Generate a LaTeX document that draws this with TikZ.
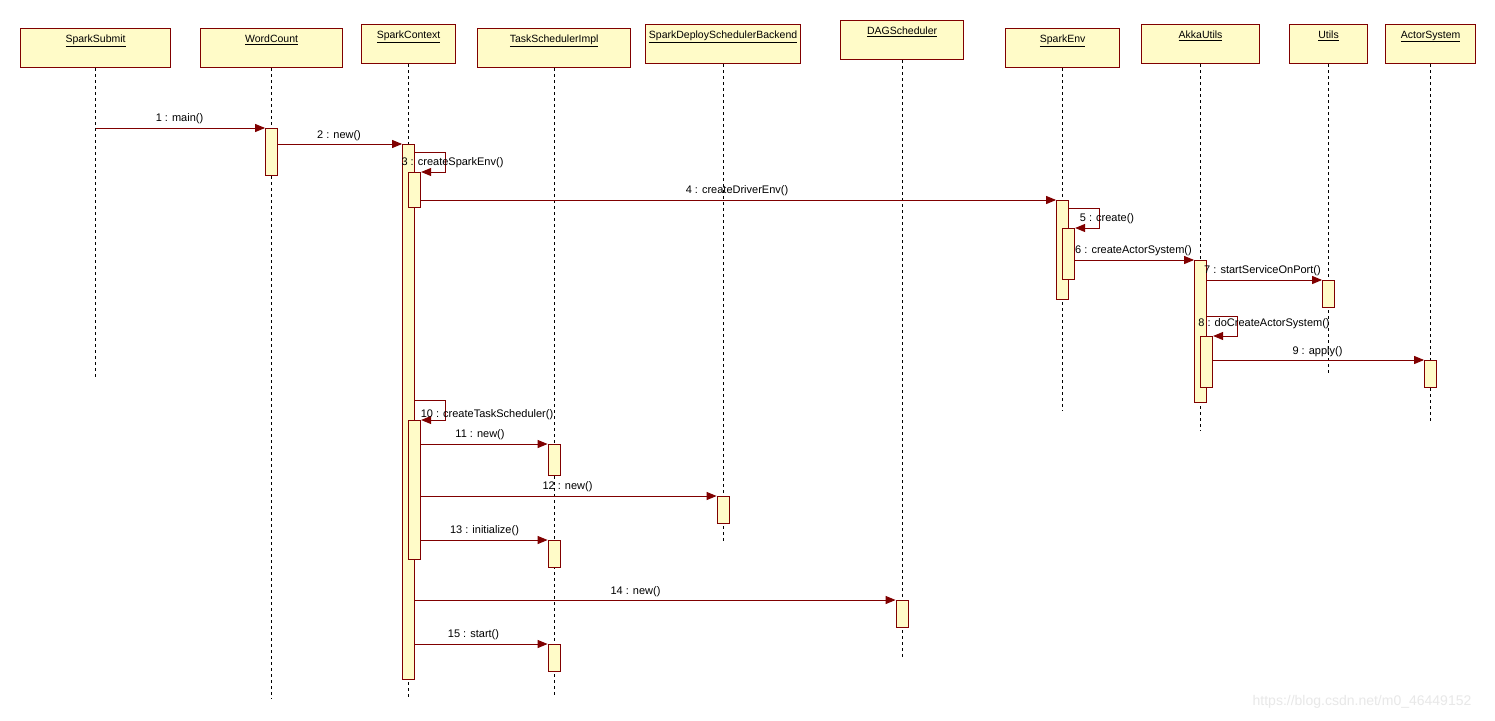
\documentclass[tikz,border=0pt]{standalone}
\usepackage{fontspec}
\setmainfont{Liberation Sans}
\usetikzlibrary{arrows.meta,calc}
\definecolor{mar}{RGB}{128,0,0}
\definecolor{yel}{RGB}{255,251,200}
\begin{document}
\begin{tikzpicture}[x=1pt,y=-1pt,
 hd/.style={draw=mar, fill=yel, line width=1.2pt, anchor=north west, inner sep=0, label={[hdtext]north:\underline{#1}}},
 hdtext/.style={anchor=north, yshift=-6.5pt, font=\fontsize{10.5}{12}\selectfont, inner sep=0},
 life/.style={line width=0.8pt, dash pattern=on 3pt off 3pt},
 act/.style={draw=mar, fill=yel, line width=1pt, minimum width=12pt, anchor=north, inner sep=0},
 msg/.style={draw=mar, line width=1pt, -{Triangle[length=10pt,width=8pt]}},
 lbl/.style={font=\fontsize{11}{12}\selectfont, inner sep=0}]
\useasboundingbox[fill=white] (0,0) rectangle (1495,720);

% headers
\node[hd=SparkSubmit, minimum width=150pt, minimum height=39pt] (ss) at (20,28) {};
\node[hd=WordCount, minimum width=142pt, minimum height=39pt] (wc) at (200,28) {};
\node[hd=SparkContext, minimum width=94pt, minimum height=39pt] (sc) at (361,24) {};
\node[hd=TaskSchedulerImpl, minimum width=153pt, minimum height=39pt] (ts) at (477,28) {};
\node[hd=SparkDeploySchedulerBackend, minimum width=155pt, minimum height=39pt] (sd) at (645,24) {};
\node[hd=DAGScheduler, minimum width=123pt, minimum height=39pt] (dag) at (840,20) {};
\node[hd=SparkEnv, minimum width=114pt, minimum height=39pt] (se) at (1005,28) {};
\node[hd=AkkaUtils, minimum width=118pt, minimum height=39pt] (ak) at (1141,24) {};
\node[hd=Utils, minimum width=78pt, minimum height=39pt] (ut) at (1289,24) {};
\node[hd=ActorSystem, minimum width=90pt, minimum height=39pt] (as) at (1385,24) {};

% lifelines
\draw[life] (ss.south) -- ++(0,310);
\draw[life] (wc.south) -- ++(0,631);
\draw[life] (sc.south) -- ++(0,634);
\draw[life] (ts.south) -- ++(0,627);
\draw[life] (sd.south) -- ++(0,477);
\draw[life] (dag.south) -- ++(0,598);
\draw[life] (se.south) -- ++(0,343);
\draw[life] (ak.south) -- ++(0,367);
\draw[life] (ut.south) -- ++(0,310);
\draw[life] (as.south) -- ++(0,357);

% activations
\node[act, minimum height=47pt] (wc1) at (wc.south |- 0,128) {};
\node[act, minimum height=535pt] (sc1) at (sc.south |- 0,144) {};
\node[act, minimum height=35pt] (sc2) at ($(sc.south |- 0,172)+(6,0)$) {};
\node[act, minimum height=139pt] (sc3) at ($(sc.south |- 0,420)+(6,0)$) {};
\node[act, minimum height=31pt] (ts1) at (ts.south |- 0,444) {};
\node[act, minimum height=27pt] (ts2) at (ts.south |- 0,540) {};
\node[act, minimum height=27pt] (ts3) at (ts.south |- 0,644) {};
\node[act, minimum height=27pt] (sd1) at (sd.south |- 0,496) {};
\node[act, minimum height=27pt] (dag1) at (dag.south |- 0,600) {};
\node[act, minimum height=99pt] (se1) at (se.south |- 0,200) {};
\node[act, minimum height=51pt] (se2) at ($(se.south |- 0,228)+(6,0)$) {};
\node[act, minimum height=142pt] (ak1) at (ak.south |- 0,260) {};
\node[act, minimum height=51pt] (ak2) at ($(ak.south |- 0,336)+(6,0)$) {};
\node[act, minimum height=27pt] (ut1) at (ut.south |- 0,280) {};
\node[act, minimum height=27pt] (as1) at (as.south |- 0,360) {};

% messages
\draw[msg] (ss.south |- wc1.north) -- (wc1.north west);
\draw[msg] (wc1.east |- sc1.north) -- (sc1.north west);
\draw[msg] ($(sc1.north east)+(0,8)$) -- ++(30,0) |- (sc2.north east);
\draw[msg] (sc2.east |- se1.north) -- (se1.north west);
\draw[msg] ($(se1.north east)+(0,8)$) -- ++(30,0) |- (se2.north east);
\draw[msg] (se2.east |- ak1.north) -- (ak1.north west);
\draw[msg] (ak1.east |- ut1.north) -- (ut1.north west);
\draw[msg] ($(ak1.east |- ak2.north)+(0,-20)$) -- ++(30,0) |- (ak2.north east);
\draw[msg] (ak2.east |- as1.north) -- (as1.north west);
\draw[msg] ($(sc1.east |- sc3.north)+(0,-20)$) -- ++(30,0) |- (sc3.north east);
\draw[msg] (sc3.east |- ts1.north) -- (ts1.north west);
\draw[msg] (sc3.east |- sd1.north) -- (sd1.north west);
\draw[msg] (sc3.east |- ts2.north) -- (ts2.north west);
\draw[msg] (sc1.east |- dag1.north) -- (dag1.north west);
\draw[msg] (sc1.east |- ts3.north) -- (ts3.north west);

% labels
\node[lbl] (l1) at (179.5,119) {1 : main()};
\node[lbl] (l2) at (339,136) {2 : new()};
\node[lbl] (l3) at (452.5,163) {3 : createSparkEnv()};
\node[lbl] (l4) at (737,191) {4 : createDriverEnv()};
\node[lbl] (l5) at (1107,219) {5 : create()};
\node[lbl] (l6) at (1133.5,251) {6 : createActorSystem()};
\node[lbl] (l7) at (1262.5,271) {7 : startServiceOnPort()};
\node[lbl] (l8) at (1264,324) {8 : doCreateActorSystem()};
\node[lbl] (l9) at (1317.5,352) {9 : apply()};
\node[lbl] (l10) at (487,415) {10 : createTaskScheduler()};
\node[lbl] (l11) at (480,435) {11 : new()};
\node[lbl] (l12) at (567.5,487) {12 : new()};
\node[lbl] (l13) at (484.5,531) {13 : initialize()};
\node[lbl] (l14) at (635.5,592) {14 : new()};
\node[lbl] (l15) at (473.5,635) {15 : start()};

\node[font=\fontsize{14}{15}\selectfont, text=black!9, inner sep=0] (wm) at (1362,702) {https://blog.csdn.net/m0\_46449152};
\end{tikzpicture}
\end{document}
